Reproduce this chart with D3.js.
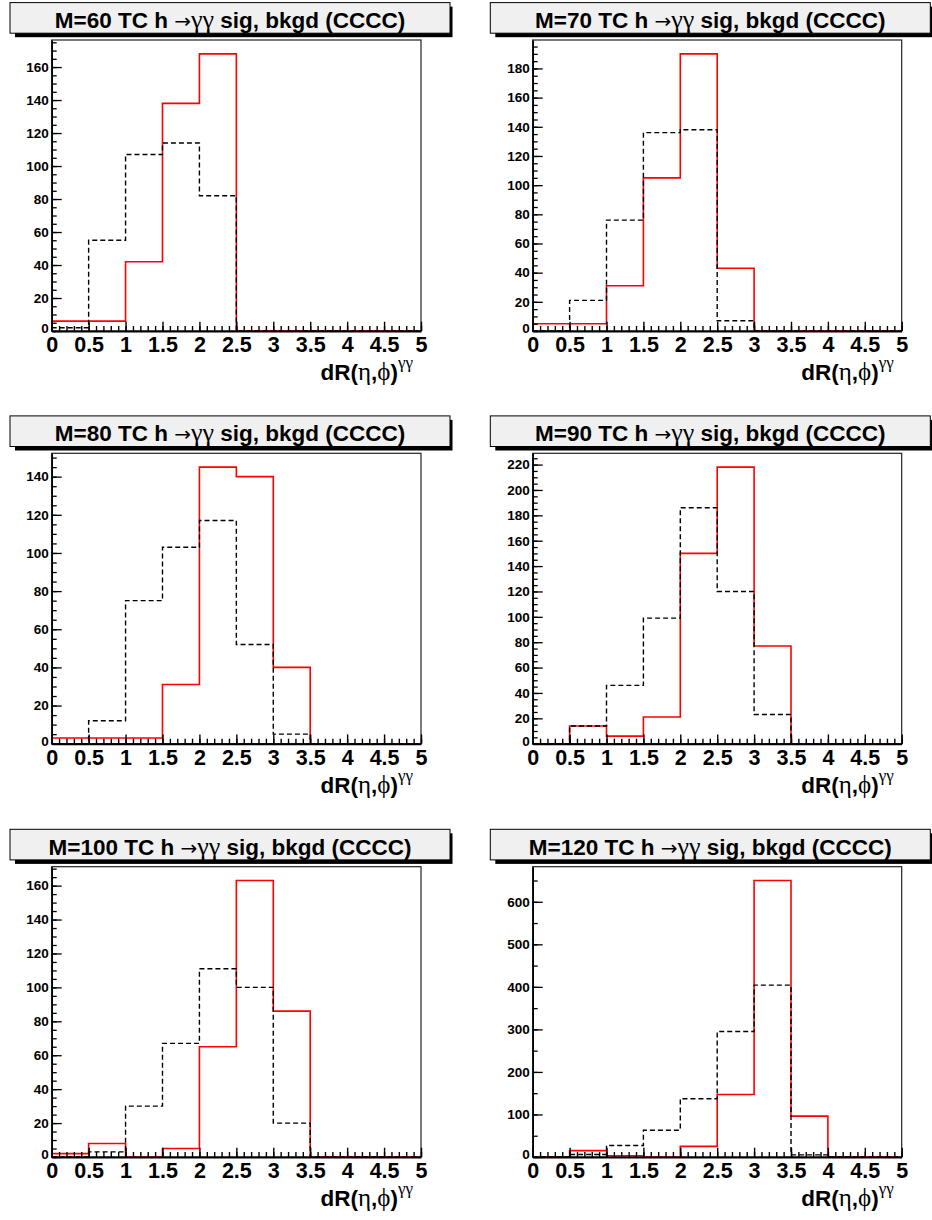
<!DOCTYPE html>
<html>
<head>
<meta charset="utf-8">
<script src="https://cdn.jsdelivr.net/npm/d3@7"></script>
<style>
  html, body { margin: 0; padding: 0; background: #fff; }
  svg { display: block; }
  text { font-family: "Liberation Sans", Arial, Helvetica, sans-serif; }
  .sym { font-family: "Liberation Serif", "Times New Roman", serif; font-weight: normal; }
  .arrow { font-family: "DejaVu Sans", sans-serif; font-weight: normal; }
</style>
</head>
<body>
<div id="chart"></div>
<script>
// Bin edges of dR(eta,phi) between the two photons (10 bins of 0.5)
const binEdges = [0, 0.5, 1, 1.5, 2, 2.5, 3, 3.5, 4, 4.5, 5];
const xTickLabels = ["0", "0.5", "1", "1.5", "2", "2.5", "3", "3.5", "4", "4.5", "5"];

// Technicolor Higgs masses, one pad each
const masses = [60, 70, 80, 90, 100, 120];

// Signal (red, solid) counts per bin
const sig60  = [6, 6, 42, 138, 168, 0, 0, 0, 0, 0];
const sig70  = [5, 5, 31, 105, 190, 43, 0, 0, 0, 0];
const sig80  = [3, 3, 3, 31, 145, 140, 40, 0, 0, 0];
const sig90  = [0, 14, 6, 21, 150, 218, 77, 0, 0, 0];
const sig100 = [2, 8, 0, 5, 65, 163, 86, 0, 0, 0];
const sig120 = [0, 15, 3, 0, 25, 147, 650, 96, 0, 0];

// Background (black, dashed) counts per bin
const bkg60  = [2, 55, 107, 114, 82, 0, 0, 0, 0, 0];
const bkg70  = [0, 21, 76, 136, 138, 7, 0, 0, 0, 0];
const bkg80  = [0, 12, 75, 103, 117, 52, 5, 0, 0, 0];
const bkg90  = [0, 14, 46, 99, 186, 120, 23, 0, 0, 0];
const bkg100 = [0, 3, 30, 67, 111, 100, 20, 0, 0, 0];
const bkg120 = [0, 6, 27, 63, 137, 295, 404, 5, 0, 0];

// Labelled y ticks of each pad
const yTicks60  = [0, 20, 40, 60, 80, 100, 120, 140, 160];
const yTicks70  = [0, 20, 40, 60, 80, 100, 120, 140, 160, 180];
const yTicks80  = [0, 20, 40, 60, 80, 100, 120, 140];
const yTicks90  = [0, 20, 40, 60, 80, 100, 120, 140, 160, 180, 200, 220];
const yTicks100 = [0, 20, 40, 60, 80, 100, 120, 140, 160];
const yTicks120 = [0, 100, 200, 300, 400, 500, 600];
const yMinorStep = [5, 5, 5, 5, 5, 50];

const signals = [sig60, sig70, sig80, sig90, sig100, sig120];
const backgrounds = [bkg60, bkg70, bkg80, bkg90, bkg100, bkg120];
const yTickSets = [yTicks60, yTicks70, yTicks80, yTicks90, yTicks100, yTicks120];

// ---- page layout ----
const W = 932, H = 1220;
const colLeft = [51.7, 532.7], colRight = [421, 901.7];
const rowTop = [40, 453.3, 866.7], rowBottom = [331, 743.7, 1157];
const titleBoxX = [10, 490.3], titleBoxW = 440, titleBoxH = 30.6;

const svg = d3.select("#chart").append("svg")
  .attr("width", W).attr("height", H)
  .attr("viewBox", `0 0 ${W} ${H}`);
svg.append("rect").attr("width", W).attr("height", H).attr("fill", "#fff");

masses.forEach((m, i) => {
  const col = i % 2, row = Math.floor(i / 2);
  const x0 = colLeft[col], x1 = colRight[col];
  const yTop = rowTop[row], yBot = rowBottom[row];
  const sig = signals[i], bkg = backgrounds[i];
  const ymax = 1.05 * d3.max(sig.concat(bkg));

  const x = d3.scaleLinear().domain([0, 5]).range([x0, x1]);
  const y = d3.scaleLinear().domain([0, ymax]).range([yBot, yTop]);

  const g = svg.append("g");

  // frame
  g.append("rect")
    .attr("x", x0).attr("y", yTop)
    .attr("width", x1 - x0).attr("height", yBot - yTop)
    .attr("fill", "#fff").attr("stroke", "#222").attr("stroke-width", 1.2);

  // histogram outlines: step line across every bin
  const stepPoints = data => {
    const pts = [];
    data.forEach((v, k) => { pts.push([binEdges[k], v]); pts.push([binEdges[k + 1], v]); });
    return pts;
  };
  const line = d3.line().x(d => x(d[0])).y(d => y(d[1]));

  g.append("path").datum(stepPoints(sig))
    .attr("d", line).attr("fill", "none")
    .attr("stroke", "#ff0000").attr("stroke-width", 1.6);
  g.append("path").datum(stepPoints(bkg))
    .attr("d", line).attr("fill", "none")
    .attr("stroke", "#000").attr("stroke-width", 1.4)
    .attr("stroke-dasharray", "5,3");

  // x axis: minor ticks every 0.1, major every 0.5, drawn inward
  const xMinor = d3.range(0, 51).map(k => k / 10);
  g.append("g").attr("transform", `translate(0,${yBot})`)
    .call(d3.axisBottom(x).tickValues(xMinor).tickSize(-5).tickFormat(""))
    .call(a => a.select(".domain").remove())
    .call(a => a.selectAll("line").attr("stroke", "#000").attr("stroke-width", 1.4));
  const xAx = g.append("g").attr("transform", `translate(0,${yBot})`)
    .call(d3.axisBottom(x).tickValues(binEdges).tickSize(-9.3).tickPadding(6.2)
      .tickFormat((d, k) => xTickLabels[k]).tickSizeOuter(0));
  xAx.select(".domain").attr("stroke", "#000").attr("stroke-width", 2);
  xAx.selectAll("line").attr("stroke", "#000").attr("stroke-width", 1.4);
  xAx.selectAll("text")
    .attr("font-family", "Liberation Sans, Arial, sans-serif")
    .attr("font-weight", "bold").attr("font-size", 21.5).attr("fill", "#000");

  // y axis: minor and labelled ticks, drawn inward
  const yMinor = d3.range(0, ymax + 1e-9, yMinorStep[i]);
  g.append("g").attr("transform", `translate(${x0},0)`)
    .call(d3.axisLeft(y).tickValues(yMinor).tickSize(-5).tickFormat(""))
    .call(a => a.select(".domain").remove())
    .call(a => a.selectAll("line").attr("stroke", "#000").attr("stroke-width", 1.3));
  const yAx = g.append("g").attr("transform", `translate(${x0},0)`)
    .call(d3.axisLeft(y).tickValues(yTickSets[i]).tickSize(-10).tickPadding(3)
      .tickFormat(d3.format("d")).tickSizeOuter(0));
  yAx.select(".domain").attr("stroke", "#000").attr("stroke-width", 1.6);
  yAx.selectAll("line").attr("stroke", "#000").attr("stroke-width", 1.3);
  yAx.selectAll("text")
    .attr("font-family", "Liberation Sans, Arial, sans-serif")
    .attr("font-weight", "bold").attr("font-size", 13.5).attr("fill", "#000");
  // the zero label sits just above the corner so it clears the x labels
  yAx.selectAll(".tick").filter(d => d === 0).select("text").attr("dy", "0.1em");

  // x axis title dR(eta,phi)^gamma-gamma, right aligned
  const xt = g.append("text")
    .attr("x", x1 - 8).attr("y", yBot + 49)
    .attr("text-anchor", "end")
    .attr("font-size", 22.5).attr("font-weight", "bold").attr("fill", "#000");
  xt.append("tspan").text("dR(");
  xt.append("tspan").attr("class", "sym").attr("font-size", 25).text("η");
  xt.append("tspan").text(",");
  xt.append("tspan").attr("class", "sym").attr("font-size", 25).text("ϕ");
  xt.append("tspan").text(")");
  xt.append("tspan").attr("class", "sym").attr("font-size", 17).attr("dy", -12).text("γγ");

  // pave title with shadow
  const bx = titleBoxX[col], by = yTop - 37.4;
  g.append("rect")
    .attr("x", bx + 5).attr("y", by + 4)
    .attr("width", titleBoxW - 2.5).attr("height", titleBoxH)
    .attr("fill", "#000");
  g.append("rect")
    .attr("x", bx).attr("y", by)
    .attr("width", titleBoxW).attr("height", titleBoxH)
    .attr("fill", "#f0f0f0").attr("stroke", "#000").attr("stroke-width", 1);
  const tt = g.append("text")
    .attr("x", bx + titleBoxW / 2).attr("y", by + 25.4)
    .attr("text-anchor", "middle")
    .attr("font-size", 22.5).attr("font-weight", "bold").attr("fill", "#000");
  tt.append("tspan").text(`M=${m} TC h `);
  tt.append("tspan").attr("class", "arrow").attr("font-size", 20).text("→");
  tt.append("tspan").attr("class", "sym").attr("font-size", 26).text("γγ");
  tt.append("tspan").text(" sig, bkgd (CCCC)");
});
</script>
</body>
</html>
